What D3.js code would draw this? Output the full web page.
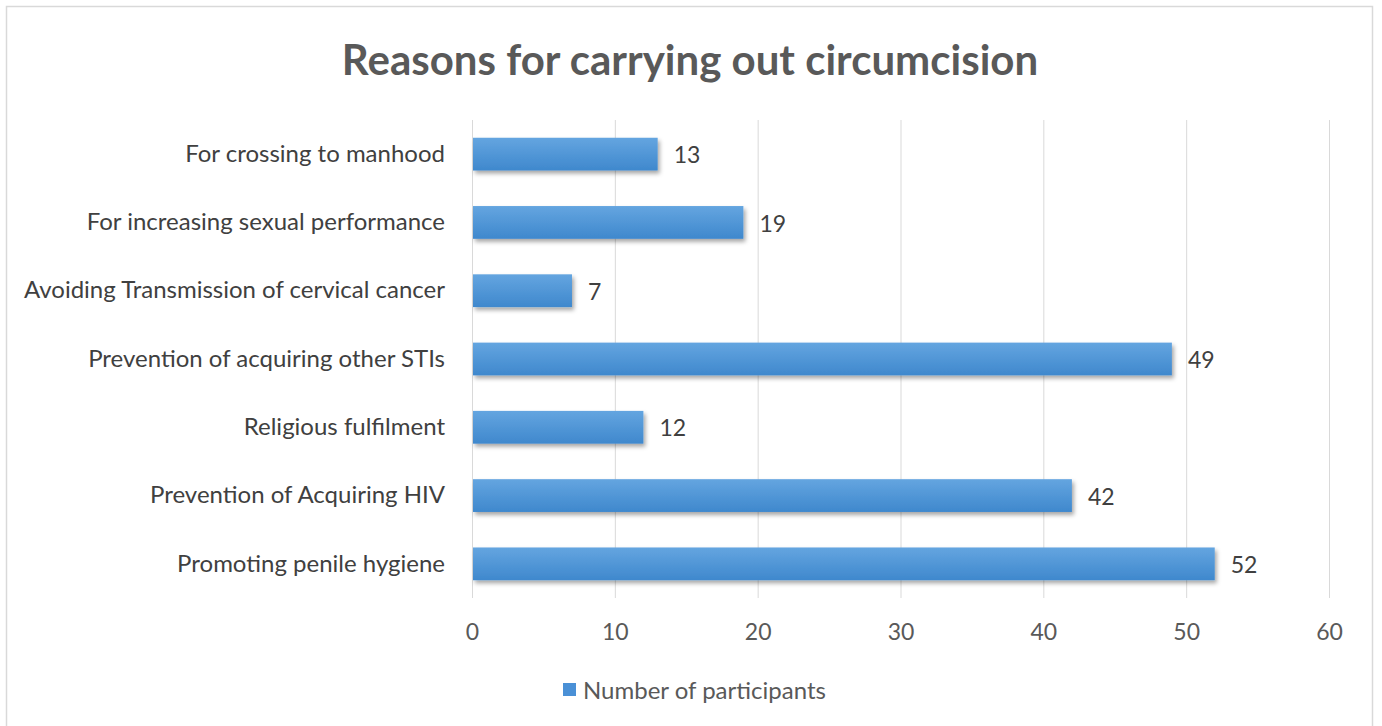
<!DOCTYPE html>
<html>
<head>
<meta charset="utf-8">
<script src="https://cdn.jsdelivr.net/npm/d3@7"></script>
<style>
  html, body { margin: 0; padding: 0; background: #fff; }
  svg { display: block; }
  text { font-family: Lato, "Open Sans", sans-serif; }
</style>
</head>
<body>
<svg id="chart" width="1382" height="726"></svg>
<script>
// Reasons for circumcision, top to bottom as listed on the chart
const categories = [
  "For crossing to manhood",
  "For increasing sexual performance",
  "Avoiding Transmission of cervical cancer",
  "Prevention of acquiring other STIs",
  "Religious fulfilment",
  "Prevention of Acquiring HIV",
  "Promoting penile hygiene"
];
const participants = [13, 19, 7, 49, 12, 42, 52];
const xTicks = [0, 10, 20, 30, 40, 50, 60];
const seriesName = "Number of participants";
const chartTitle = "Reasons for carrying out circumcision";

const svg = d3.select("#chart");
const W = 1382, H = 726;
const margin = { left: 472, right: 53, top: 120, bottom: 128 };

// outer frame
svg.append("rect")
  .attr("x", 6.5).attr("y", 6.5)
  .attr("width", 1366).attr("height", 730)
  .attr("fill", "#fff").attr("stroke", "#d9d9d9").attr("stroke-width", 1.5);

const defs = svg.append("defs");
const grad = defs.append("linearGradient")
  .attr("id", "barGrad").attr("x1", 0).attr("y1", 0).attr("x2", 0).attr("y2", 1);
grad.append("stop").attr("offset", "0%").attr("stop-color", "#64a5e0");
grad.append("stop").attr("offset", "100%").attr("stop-color", "#3f88cd");

const shadow = defs.append("filter").attr("id", "barShadow")
  .attr("x", "-5%").attr("y", "-30%").attr("width", "115%").attr("height", "180%");
shadow.append("feDropShadow")
  .attr("dx", 2).attr("dy", 3).attr("stdDeviation", 2)
  .attr("flood-color", "#000").attr("flood-opacity", 0.35);

const x = d3.scaleLinear()
  .domain([0, 60])
  .range([margin.left, W - margin.right]);

const y = d3.scaleBand()
  .domain(categories)
  .range([margin.top, H - margin.bottom])
  .paddingInner(0.52)
  .paddingOuter(0.26);

// vertical gridlines
svg.append("g")
  .selectAll("line")
  .data(xTicks)
  .join("line")
  .attr("x1", d => x(d) + 0.5).attr("x2", d => x(d) + 0.5)
  .attr("y1", margin.top).attr("y2", H - margin.bottom)
  .attr("stroke", "#d9d9d9").attr("stroke-width", 1);

// x axis labels
const xAxis = d3.axisBottom(x).tickValues(xTicks).tickSize(0).tickPadding(26);
const gx = svg.append("g")
  .attr("transform", `translate(0,${H - margin.bottom})`)
  .call(xAxis);
gx.select(".domain").remove();
gx.selectAll("text")
  .attr("fill", "#595959")
  .style("font-size", "23px");

// category labels
const yAxis = d3.axisLeft(y).tickSize(0).tickPadding(27);
const gy = svg.append("g")
  .attr("transform", `translate(${margin.left},0)`)
  .call(yAxis);
gy.select(".domain").remove();
gy.selectAll("text")
  .attr("fill", "#404040")
  .style("font-size", "24px");

// bars
svg.append("g")
  .selectAll("rect")
  .data(categories)
  .join("rect")
  .attr("x", x(0) + 1)
  .attr("y", d => y(d))
  .attr("width", (d, i) => x(participants[i]) - x(0) - 1)
  .attr("height", y.bandwidth())
  .attr("fill", "url(#barGrad)")
  .attr("filter", "url(#barShadow)");

// value labels
svg.append("g")
  .selectAll("text")
  .data(categories)
  .join("text")
  .attr("x", (d, i) => x(participants[i]) + 16)
  .attr("y", d => y(d) + y.bandwidth() / 2)
  .attr("dy", "0.4em")
  .attr("fill", "#404040")
  .style("font-size", "23px")
  .text((d, i) => participants[i]);

// title
svg.append("text")
  .attr("x", 690).attr("y", 75)
  .attr("text-anchor", "middle")
  .attr("fill", "#595959")
  .style("font-size", "42px")
  .style("font-weight", "bold")
  .text(chartTitle);

// legend
const leg = svg.append("g").attr("transform", "translate(563,690)");
leg.append("rect")
  .attr("x", 0).attr("y", -7).attr("width", 13).attr("height", 13)
  .attr("fill", "#4a90d6");
leg.append("text")
  .attr("x", 20).attr("y", 0).attr("dy", "0.36em")
  .attr("fill", "#595959")
  .style("font-size", "24px")
  .text(seriesName);
</script>
</body>
</html>
